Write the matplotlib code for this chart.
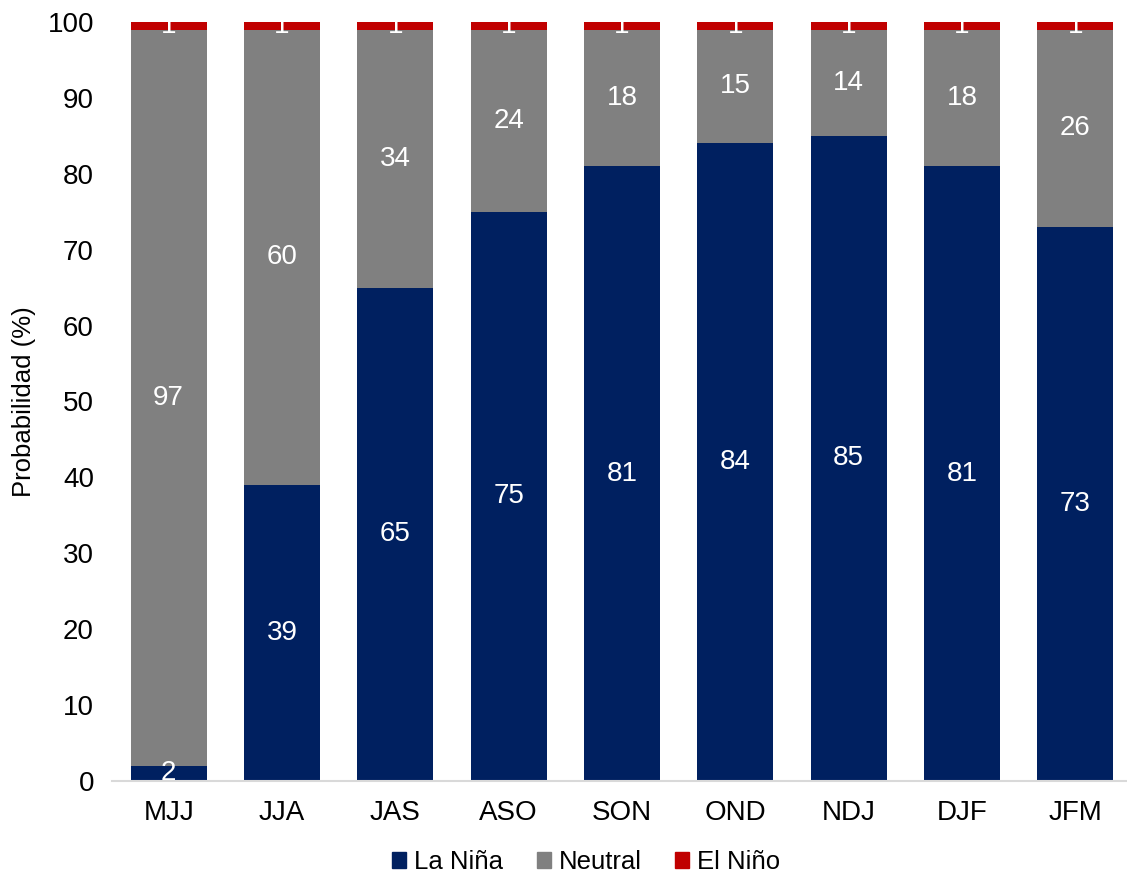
import numpy as np
import matplotlib.pyplot as plt
from matplotlib.patches import Patch

plt.rcParams["font.family"] = ["Liberation Sans", "DejaVu Sans"]

# datos
temporadas = ["MJJ", "JJA", "JAS", "ASO", "SON", "OND", "NDJ", "DJF", "JFM"]
la_nina = [2, 39, 65, 75, 81, 84, 85, 81, 73]
neutral = [97, 60, 34, 24, 18, 15, 14, 18, 26]
el_nino = [1, 1, 1, 1, 1, 1, 1, 1, 1]

c_nina = "#002060"
c_neutral = "#808080"
c_nino = "#C00000"

fig = plt.figure(figsize=(11.27, 8.75), dpi=100)
ax = fig.add_axes([0.0994, 0.1074, 0.905, 0.8675])

x = np.arange(len(temporadas))
w = 0.67
la_nina = np.array(la_nina)
neutral = np.array(neutral)
el_nino = np.array(el_nino)

ax.bar(x, la_nina, w, color=c_nina, label="La Niña")
ax.bar(x, neutral, w, bottom=la_nina, color=c_neutral, label="Neutral")
ax.bar(x, el_nino, w, bottom=la_nina + neutral, color=c_nino, label="El Niño")

# etiquetas
for i in range(len(x)):
    ax.text(x[i], la_nina[i] / 2, str(la_nina[i]), ha="center", va="center",
            color="white", fontsize=20)
    ax.text(x[i], la_nina[i] + neutral[i] / 2, str(neutral[i]), ha="center", va="center",
            color="white", fontsize=20)
    ax.text(x[i], la_nina[i] + neutral[i] + el_nino[i] / 2, str(el_nino[i]), ha="center",
            va="center", color="white", fontsize=20, clip_on=True)

ax.set_xlim(-0.5, 8.5)
ax.set_ylim(0, 100)
ax.set_yticks(range(0, 101, 10))
ax.set_xticks(x)
ax.set_xticklabels(temporadas)
ax.tick_params(axis="both", length=0, labelsize=20, colors="#000000")
ax.tick_params(axis="x", pad=14)
ax.tick_params(axis="y", pad=13)
for s in ["top", "right", "left"]:
    ax.spines[s].set_visible(False)
ax.spines["bottom"].set_color("#D9D9D9")
ax.spines["bottom"].set_linewidth(1.5)
ax.set_ylabel("Probabilidad (%)", fontsize=18.5, labelpad=8)

handles = [Patch(color=c_nina, label="La Niña"),
           Patch(color=c_neutral, label="Neutral"),
           Patch(color=c_nino, label="El Niño")]
fig.legend(handles=handles, loc="center", bbox_to_anchor=(0.52, 0.015), ncol=3,
           frameon=False, fontsize=18.5, handlelength=0.55, handleheight=0.55,
           handletextpad=0.3, columnspacing=1.3)

plt.savefig("out.png", dpi=100)
